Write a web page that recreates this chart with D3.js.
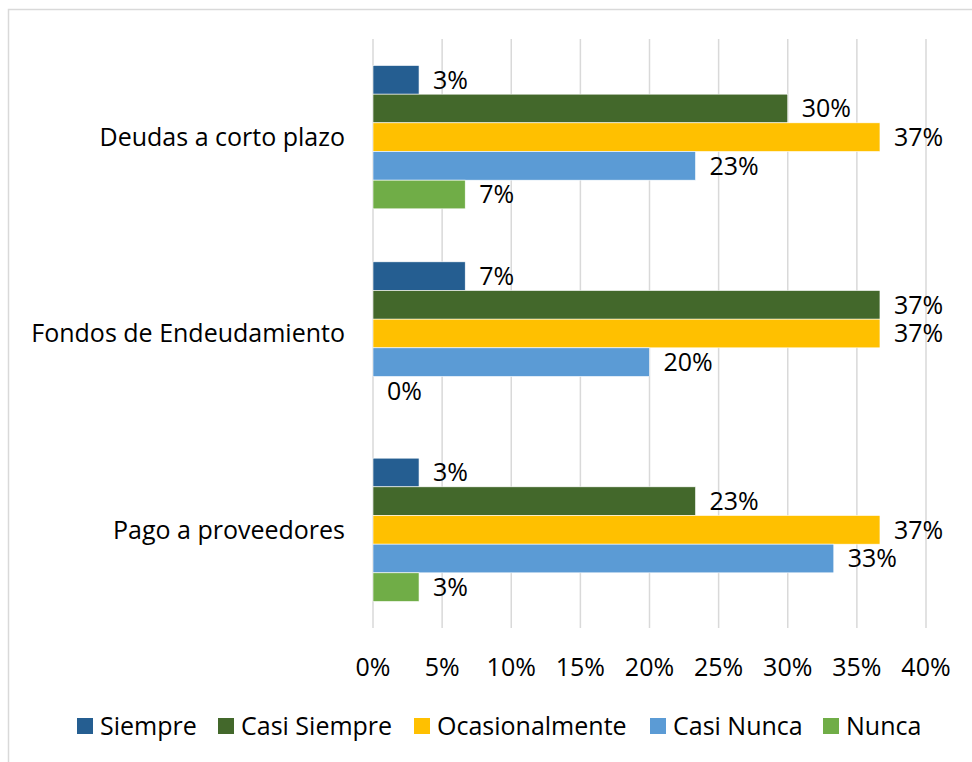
<!DOCTYPE html>
<html>
<head>
<meta charset="utf-8">
<script src="https://cdn.jsdelivr.net/npm/d3@7"></script>
<style>
  body { margin: 0; background: #fff; }
  text { font-family: "Open Sans", Lato, sans-serif; fill: #000; }
</style>
</head>
<body>
<div id="chart"></div>
<script>
// data (percent)
const categories = ["Deudas a corto plazo", "Fondos de Endeudamiento", "Pago a proveedores"];
const series = ["Siempre", "Casi Siempre", "Ocasionalmente", "Casi Nunca", "Nunca"];
const siempre = [3.33, 6.67, 3.33];
const casiSiempre = [30, 36.67, 23.33];
const ocasionalmente = [36.67, 36.67, 36.67];
const casiNunca = [23.33, 20, 33.33];
const nunca = [6.67, 0, 3.33];
const xTicks = [0, 5, 10, 15, 20, 25, 30, 35, 40];
const colors = ["#255e91", "#43682b", "#ffc000", "#5b9bd5", "#70ad47"];

const values = [siempre, casiSiempre, ocasionalmente, casiNunca, nunca];

const W = 972, H = 762;
const margin = {top: 39, right: 46, bottom: 134, left: 373};
const fs = 25;

const svg = d3.select("#chart").append("svg")
  .attr("width", W)
  .attr("height", H);

// outer frame
svg.append("rect")
  .attr("x", 8.5).attr("y", 9.5)
  .attr("width", W + 10).attr("height", H + 10)
  .attr("fill", "none")
  .attr("stroke", "#d9d9d9")
  .attr("stroke-width", 1.5);

const x = d3.scaleLinear().domain([0, 40]).range([margin.left, W - margin.right]);
const y0 = d3.scaleBand().domain(categories)
  .range([margin.top, H - margin.bottom])
  .paddingInner(0.27).paddingOuter(0.135);
const y1 = d3.scaleBand().domain(series).range([0, y0.bandwidth()]);

// gridlines
svg.append("g")
  .selectAll("line")
  .data(xTicks)
  .join("line")
  .attr("x1", d => x(d)).attr("x2", d => x(d))
  .attr("y1", margin.top).attr("y2", H - margin.bottom)
  .attr("stroke", "#d9d9d9")
  .attr("stroke-width", 1.5);

// x tick labels
svg.append("g")
  .selectAll("text")
  .data(xTicks)
  .join("text")
  .attr("x", d => x(d))
  .attr("y", 676)
  .attr("text-anchor", "middle")
  .attr("font-size", fs)
  .text(d => d + "%");

// category labels
svg.append("g")
  .selectAll("text")
  .data(categories)
  .join("text")
  .attr("x", 345)
  .attr("y", d => y0(d) + y0.bandwidth() / 2)
  .attr("dy", "0.35em")
  .attr("text-anchor", "end")
  .attr("font-size", fs)
  .text(d => d);

const rows = [];
categories.forEach((c, i) => {
  series.forEach((s, j) => {
    rows.push({cat: c, ser: s, v: values[j][i], color: colors[j]});
  });
});

const groups = svg.append("g");

groups.selectAll("rect")
  .data(rows)
  .join("rect")
  .attr("x", x(0))
  .attr("y", d => y0(d.cat) + y1(d.ser))
  .attr("width", d => x(d.v) - x(0))
  .attr("height", y1.bandwidth())
  .attr("fill", d => d.color)
  .attr("stroke", "#fff")
  .attr("stroke-width", d => d.v > 0 ? 0.6 : 0);

groups.selectAll("text")
  .data(rows)
  .join("text")
  .attr("x", d => x(d.v) + 14)
  .attr("y", d => y0(d.cat) + y1(d.ser) + y1.bandwidth() / 2)
  .attr("dy", "0.35em")
  .attr("font-size", fs)
  .text(d => Math.round(d.v) + "%");

// legend
const legendX = [77, 218, 414, 650, 823];
const legend = svg.append("g")
  .selectAll("g")
  .data(series)
  .join("g")
  .attr("transform", (d, i) => `translate(${legendX[i]},718)`);

legend.append("rect")
  .attr("width", 16).attr("height", 16)
  .attr("fill", (d, i) => colors[i]);

legend.append("text")
  .attr("x", 23)
  .attr("y", 8)
  .attr("dy", "0.35em")
  .attr("font-size", fs)
  .text(d => d);
</script>
</body>
</html>
